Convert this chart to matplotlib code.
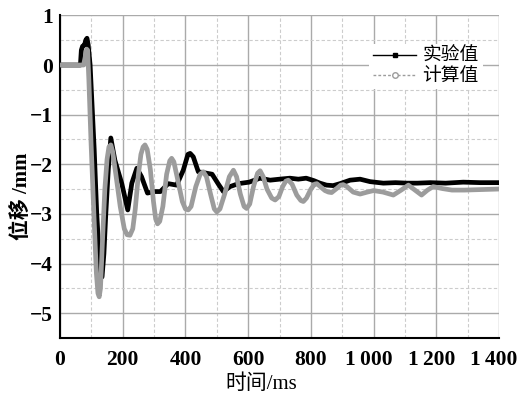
import matplotlib
matplotlib.use('Agg')
import matplotlib.pyplot as plt
import matplotlib.transforms as mtransforms
from matplotlib.lines import Line2D
from matplotlib.ticker import MultipleLocator, FuncFormatter

# experimental displacement (black)
t_exp = [0, 65, 68, 72, 78, 82, 86, 90, 96, 109, 117, 128, 134, 140, 146, 154, 162, 175,
         197, 216, 229, 245, 260, 279, 300, 320, 345, 372, 393, 408, 415, 425, 441, 468,
         485, 505, 521, 542, 569, 603, 638, 670, 700, 733, 760, 785, 810, 829, 850, 871,
         893, 925, 957, 989, 1031, 1070, 1106, 1140, 1180, 1230, 1286, 1340, 1393]
d_exp = [0, 0, 0.3, 0.38, 0.4, 0.5, 0.54, 0.4, 0.0, -1.7, -2.98, -4.2, -4.27, -3.8, -3.0,
         -2.1, -1.47, -1.92, -2.39, -2.92, -2.38, -2.08, -2.25, -2.58, -2.55, -2.55, -2.39,
         -2.42, -2.12, -1.8, -1.78, -1.85, -2.15, -2.18, -2.2, -2.4, -2.55, -2.45, -2.39,
         -2.36, -2.28, -2.32, -2.3, -2.28, -2.3, -2.28, -2.33, -2.38, -2.42, -2.43, -2.39,
         -2.32, -2.3, -2.35, -2.38, -2.37, -2.38, -2.38, -2.37, -2.38, -2.36, -2.37, -2.37]

# computed displacement (gray)
t_cal = [0, 75, 80, 85, 88, 92, 99, 108, 116, 121, 125, 129, 135, 143, 150, 156, 162, 168,
         178, 192, 205, 214, 223, 232, 240, 250, 258, 265, 271, 278, 288, 298, 305, 311,
         318, 328, 340, 350, 356, 363, 375, 390, 400, 409, 418, 433, 447, 457, 467, 480,
         492, 500, 510, 525, 540, 553, 563, 575, 587, 595, 605, 617, 630, 638, 648, 660,
         675, 686, 698, 710, 720, 728, 740, 755, 768, 776, 786, 800, 812, 819, 830, 845,
         856, 866, 880, 895, 903, 915, 935, 957, 980, 1000, 1030, 1063, 1088, 1111, 1132,
         1153, 1172, 1190, 1220, 1250, 1290, 1340, 1393]
d_cal = [0, 0, 0.15, 0.32, 0.3, -0.3, -1.57, -3.0, -4.2, -4.6, -4.67, -4.5, -3.6, -2.5,
         -1.9, -1.65, -1.61, -1.75, -2.2, -2.85, -3.3, -3.42, -3.43, -3.3, -2.9, -2.2, -1.8,
         -1.65, -1.61, -1.7, -2.1, -2.75, -3.1, -3.2, -3.15, -2.85, -2.2, -1.93, -1.88,
         -1.95, -2.3, -2.75, -2.9, -2.92, -2.85, -2.45, -2.2, -2.15, -2.25, -2.6, -2.9,
         -2.96, -2.9, -2.6, -2.25, -2.12, -2.25, -2.6, -2.85, -2.89, -2.8, -2.45, -2.18,
         -2.13, -2.25, -2.5, -2.68, -2.72, -2.65, -2.45, -2.34, -2.32, -2.4, -2.62, -2.73,
         -2.75, -2.68, -2.5, -2.4, -2.39, -2.45, -2.53, -2.56, -2.57, -2.5, -2.42, -2.41,
         -2.45, -2.56, -2.6, -2.56, -2.53, -2.56, -2.62, -2.52, -2.42, -2.52, -2.62, -2.52,
         -2.45, -2.49, -2.52, -2.52, -2.51, -2.5]

labels = ['实验值', '计算值']

plt.rcParams['font.family'] = ['Liberation Serif', 'Noto Sans CJK SC', 'DejaVu Sans']

fig = plt.figure(figsize=(5.21, 3.98), dpi=100)
ax = fig.add_axes([0.1152, 0.1508, 0.8426, 0.8105])

ax.plot(t_exp, d_exp, color='black', lw=3.4, solid_joinstyle='round', zorder=3)
ax.plot(t_cal, d_cal, color='#9c9c9c', lw=3.4, solid_joinstyle='round', zorder=4)

ax.set_xlim(0, 1400)
ax.set_ylim(-5.5, 1)
ax.xaxis.set_major_locator(MultipleLocator(200))
ax.xaxis.set_minor_locator(MultipleLocator(100))
ax.yaxis.set_major_locator(MultipleLocator(1))
ax.yaxis.set_minor_locator(MultipleLocator(0.5))
ax.xaxis.set_major_formatter(FuncFormatter(lambda v, p: f'{int(v):,}'.replace(',', '\u2009')))
ax.yaxis.set_major_formatter(FuncFormatter(lambda v, p: f'{int(v)}'.replace('-', '\u2212')))

ax.grid(which='major', color='#aaaaaa', lw=1, ls='-')
ax.grid(which='minor', color='#cccccc', lw=0.8, ls=(0, (3, 2)))
ax.set_axisbelow(True)

for s in ['top', 'right']:
    ax.spines[s].set_visible(False)
for s in ['left', 'bottom']:
    ax.spines[s].set_linewidth(1.5)
    ax.spines[s].set_color('black')

ax.tick_params(which='both', length=0)
ax.tick_params(axis='x', pad=9, labelsize=15.5)
ax.tick_params(axis='y', pad=5, labelsize=15.5)
fig.canvas.draw()
shift = mtransforms.ScaledTranslation(-5 / 100, 0, fig.dpi_scale_trans)
for lab in ax.get_xticklabels():
    lab.set_fontweight('bold')
    if '\u2009' in lab.get_text():
        lab.set_transform(lab.get_transform() + shift)
for lab in ax.get_yticklabels():
    lab.set_fontweight('bold')

ax.set_xlabel('时间/ms', fontsize=15)
ax.xaxis.set_label_coords(0.459, -0.113)
ax.set_ylabel('位移 /mm', fontsize=15, fontweight='bold')
ax.yaxis.set_label_coords(-0.065, 0.44)

handles = [
    Line2D([0], [0], color='black', lw=1, marker='s', markersize=3),
    Line2D([0], [0], color='#9c9c9c', lw=1, ls=(0, (2, 1.5)), marker='o',
           markersize=4, markerfacecolor='white'),
]
ax.legend(handles, labels, loc='upper right', bbox_to_anchor=(492 / 521, 1 - 35 / 398),
          bbox_transform=fig.transFigure, frameon=True, facecolor='white',
          edgecolor='none', framealpha=1, fancybox=False, fontsize=13.5,
          handlelength=2.3, handletextpad=0.35, labelspacing=0.15, borderpad=0.2)

fig.savefig('out.png', dpi=100)
